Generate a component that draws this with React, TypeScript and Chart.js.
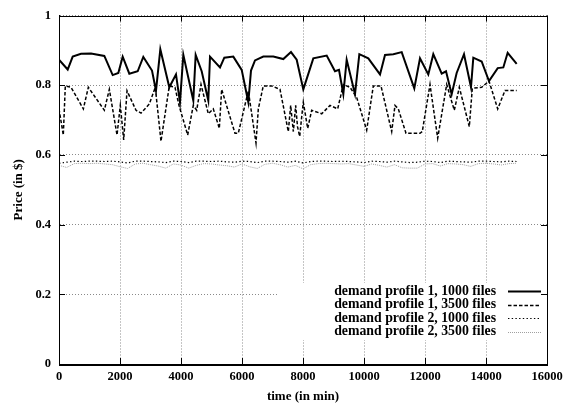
import { useEffect, useRef } from 'react';
import { Chart, registerables } from 'chart.js';
Chart.register(...registerables);

// ---- data ----
const xTicks = [0, 2000, 4000, 6000, 8000, 10000, 12000, 14000, 16000];
const yTicks = [0, 0.2, 0.4, 0.6, 0.8, 1];

const seriesNames = [
  'demand profile 1, 1000 files',
  'demand profile 1, 3500 files',
  'demand profile 2, 1000 files',
  'demand profile 2, 3500 files',
];

const p1x1000 = [0, 285, 449, 721, 1049, 1486, 1760, 1945, 2088, 2306, 2580, 2764, 3049, 3180, 3322, 3617, 3836, 3967, 4076, 4403, 4481, 4678, 4895, 4951, 5279, 5420, 5715, 5990, 6207, 6295, 6426, 6698, 7026, 7354, 7606, 7793, 8010, 8338, 8777, 9049, 9180, 9322, 9432, 9705, 9847, 10141, 10525, 10689, 10961, 11236, 11649, 11836, 12108, 12272, 12547, 12689, 12874, 13038, 13279, 13508, 13584, 13858, 14098, 14384, 14568, 14710, 15006];
const p1y1000 = [0.873, 0.845, 0.882, 0.89, 0.891, 0.884, 0.829, 0.835, 0.882, 0.833, 0.84, 0.881, 0.842, 0.784, 0.903, 0.794, 0.831, 0.751, 0.887, 0.756, 0.887, 0.84, 0.756, 0.882, 0.851, 0.879, 0.882, 0.844, 0.751, 0.842, 0.871, 0.882, 0.882, 0.875, 0.895, 0.873, 0.788, 0.877, 0.885, 0.84, 0.844, 0.774, 0.873, 0.774, 0.889, 0.877, 0.831, 0.887, 0.889, 0.895, 0.791, 0.877, 0.831, 0.889, 0.833, 0.84, 0.774, 0.835, 0.889, 0.794, 0.879, 0.868, 0.812, 0.849, 0.851, 0.893, 0.861];

const p1x3500 = [0, 141, 207, 393, 798, 962, 1486, 1650, 1902, 2010, 2121, 2230, 2525, 2689, 2961, 3157, 3344, 3617, 3803, 3934, 4219, 4403, 4514, 4656, 4895, 5059, 5256, 5333, 5770, 5879, 6207, 6459, 6535, 6698, 6973, 7246, 7518, 7596, 7683, 7760, 7820, 7891, 7957, 8010, 8154, 8285, 8613, 8885, 9137, 9322, 9541, 9760, 10088, 10305, 10557, 10908, 11016, 11125, 11377, 11836, 11911, 12164, 12416, 12711, 12961, 13125, 13453, 13551, 13858, 14098, 14384, 14623, 15006];
const p1y3500 = [0.732, 0.657, 0.798, 0.794, 0.732, 0.794, 0.728, 0.788, 0.657, 0.742, 0.643, 0.784, 0.728, 0.72, 0.746, 0.794, 0.639, 0.798, 0.794, 0.742, 0.657, 0.742, 0.728, 0.802, 0.718, 0.732, 0.676, 0.788, 0.662, 0.662, 0.784, 0.634, 0.732, 0.798, 0.798, 0.788, 0.667, 0.742, 0.667, 0.742, 0.681, 0.653, 0.709, 0.751, 0.676, 0.728, 0.718, 0.742, 0.732, 0.802, 0.794, 0.765, 0.671, 0.798, 0.798, 0.667, 0.742, 0.732, 0.662, 0.662, 0.667, 0.802, 0.648, 0.802, 0.728, 0.794, 0.681, 0.791, 0.794, 0.812, 0.732, 0.785, 0.785];

const p2x = [0, 250, 500, 750, 1000, 1250, 1500, 1750, 2000, 2250, 2500, 2750, 3000, 3250, 3500, 3750, 4000, 4250, 4500, 4750, 5000, 5250, 5500, 5750, 6000, 6250, 6500, 6750, 7000, 7250, 7500, 7750, 8000, 8250, 8500, 8750, 9000, 9250, 9500, 9750, 10000, 10250, 10500, 10750, 11000, 11250, 11500, 11750, 12000, 12250, 12500, 12750, 13000, 13250, 13500, 13750, 14000, 14250, 14500, 14750, 15000];
const p2y1000 = [0.576, 0.579, 0.582, 0.581, 0.582, 0.582, 0.581, 0.582, 0.58, 0.577, 0.582, 0.582, 0.581, 0.58, 0.578, 0.582, 0.581, 0.578, 0.582, 0.582, 0.581, 0.582, 0.58, 0.579, 0.582, 0.581, 0.578, 0.582, 0.582, 0.581, 0.579, 0.582, 0.577, 0.581, 0.582, 0.582, 0.581, 0.582, 0.581, 0.58, 0.578, 0.582, 0.581, 0.579, 0.582, 0.58, 0.578, 0.579, 0.582, 0.581, 0.578, 0.582, 0.581, 0.58, 0.579, 0.582, 0.582, 0.581, 0.58, 0.582, 0.581];
const p2y3500 = [0.57, 0.564, 0.575, 0.576, 0.575, 0.576, 0.574, 0.572, 0.566, 0.561, 0.574, 0.576, 0.572, 0.568, 0.562, 0.574, 0.571, 0.562, 0.57, 0.575, 0.574, 0.571, 0.569, 0.565, 0.574, 0.566, 0.561, 0.573, 0.576, 0.572, 0.565, 0.57, 0.56, 0.572, 0.575, 0.576, 0.575, 0.574, 0.575, 0.571, 0.567, 0.574, 0.57, 0.565, 0.572, 0.563, 0.562, 0.562, 0.574, 0.575, 0.568, 0.575, 0.574, 0.572, 0.567, 0.575, 0.576, 0.574, 0.571, 0.575, 0.576];

const FONT = '"Liberation Serif", "Times New Roman", serif';

const styles = [
  { color: '#000', width: 2, dash: [] as number[] },
  { color: '#000', width: 1.5, dash: [3.5, 2] },
  { color: '#000', width: 1.2, dash: [1.4, 2.3] },
  { color: '#a0a0a0', width: 1, dash: [1, 1] },
];

const pts = (xs: number[], ys: number[]) => xs.map((x, i) => ({ x, y: ys[i] }));

const framePlugin = {
  id: 'gnuFrame',
  beforeDatasetsDraw(chart: any) {
    const ctx = chart.ctx;
    ctx.save();
    ctx.fillStyle = '#fff';
    ctx.fillRect(279, 283, 267, 57);
    ctx.restore();
  },
  afterDraw(chart: any) {
    const { ctx, chartArea: a, scales } = chart;
    ctx.save();
    ctx.strokeStyle = '#000';
    ctx.lineWidth = 1;
    ctx.setLineDash([]);
    ctx.strokeRect(Math.round(a.left) + 0.5, Math.round(a.top) + 0.5, Math.round(a.right - a.left), Math.round(a.bottom - a.top));
    const tl = 6;
    ctx.beginPath();
    xTicks.forEach((v) => {
      const px = Math.round(scales.x.getPixelForValue(v)) + 0.5;
      ctx.moveTo(px, a.bottom); ctx.lineTo(px, a.bottom - tl);
      ctx.moveTo(px, a.top); ctx.lineTo(px, a.top + tl);
    });
    yTicks.forEach((v) => {
      const py = Math.round(scales.y.getPixelForValue(v)) + 0.5;
      ctx.moveTo(a.left, py); ctx.lineTo(a.left + tl, py);
      ctx.moveTo(a.right, py); ctx.lineTo(a.right - tl, py);
    });
    ctx.stroke();

    // legend
    ctx.font = `bold 13.8px ${FONT}`;
    ctx.fillStyle = '#000';
    ctx.textAlign = 'right';
    ctx.textBaseline = 'middle';
    seriesNames.forEach((name, i) => {
      const y = 291 + i * 13.6;
      ctx.fillText(name, 496, y);
      const s = styles[i];
      ctx.beginPath();
      ctx.strokeStyle = s.color;
      ctx.lineWidth = s.width;
      ctx.setLineDash(s.dash);
      ctx.moveTo(508, Math.round(y) + 0.5);
      ctx.lineTo(541, Math.round(y) + 0.5);
      ctx.stroke();
    });
    ctx.restore();
  },
};

export default function App() {
  const ref = useRef<HTMLCanvasElement>(null);
  useEffect(() => {
    document.body.style.margin = '0';
    const seriesData = [pts(p1x1000, p1y1000), pts(p1x3500, p1y3500), pts(p2x, p2y1000), pts(p2x, p2y3500)];
    const tickFont = { family: FONT, size: 12.5, weight: 'bold' as const };
    const titleFont = { family: FONT, size: 13, weight: 'bold' as const };
    const chart = new Chart(ref.current!, {
      type: 'scatter',
      data: {
        datasets: seriesData.map((d, i) => ({
          label: seriesNames[i],
          data: d,
          showLine: true,
          pointRadius: 0,
          borderColor: styles[i].color,
          borderWidth: styles[i].width,
          borderDash: styles[i].dash,
          tension: 0,
          fill: false,
        })).reverse(),
      },
      options: {
        responsive: false,
        animation: false,
        events: [],
        layout: { padding: { top: 8, right: 37, left: 0, bottom: 0 } },
        plugins: { legend: { display: false }, tooltip: { enabled: false } },
        scales: {
          x: {
            type: 'linear',
            min: 0,
            max: 16000,
            afterBuildTicks: (s: any) => { s.ticks = xTicks.map((v) => ({ value: v })); },
            ticks: { color: '#000', font: tickFont, padding: 5, maxRotation: 0, autoSkip: false, callback: (v: any) => String(v) },
            grid: { color: '#8a8a8a', lineWidth: 1, drawTicks: false },
            border: { display: true, color: '#000', width: 1, dash: [1, 2] },
            title: { display: true, text: 'time (in min)', color: '#000', font: titleFont, padding: { top: 2, bottom: 3 } },
            afterFit: (s: any) => { s.height = 43; },
          },
          y: {
            type: 'linear',
            min: 0,
            max: 1,
            afterBuildTicks: (s: any) => { s.ticks = yTicks.map((v) => ({ value: v })); },
            ticks: { color: '#000', font: tickFont, padding: 8, autoSkip: false, callback: (v: any) => String(v) },
            grid: { color: '#8a8a8a', lineWidth: 1, drawTicks: false },
            border: { display: true, color: '#000', width: 1, dash: [1, 2] },
            title: { display: true, text: 'Price (in $)', color: '#000', font: titleFont, padding: { top: 11, bottom: 0 } },
            afterFit: (s: any) => { s.width = 59; },
          },
        },
      },
      plugins: [framePlugin],
    });
    return () => chart.destroy();
  }, []);
  return (
    <div style={{ position: 'absolute', left: 0, top: 0, width: 584, height: 407, background: '#fff' }}>
      <canvas ref={ref} width={584} height={407} style={{ display: 'block' }} />
    </div>
  );
}
